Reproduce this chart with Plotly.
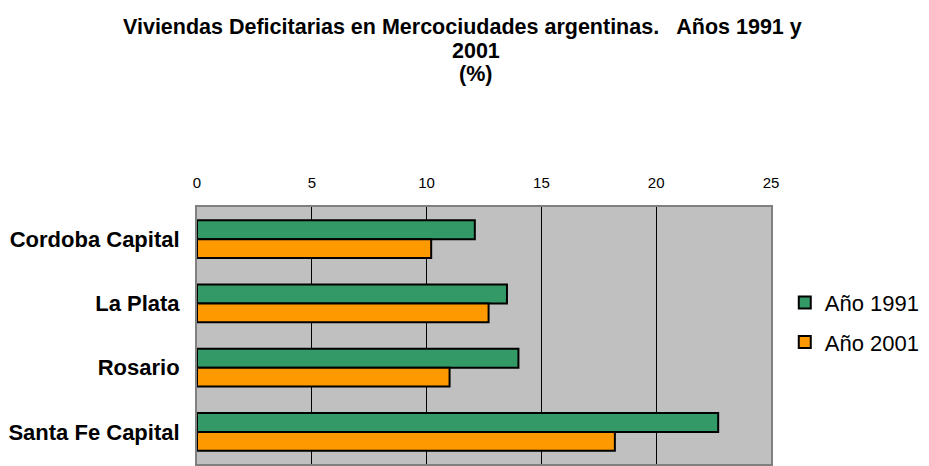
import plotly.graph_objects as go

# Data
ciudades = ["Cordoba Capital", "La Plata", "Rosario", "Santa Fe Capital"]
anio_1991 = [12.1, 13.5, 14.0, 22.7]
anio_2001 = [10.2, 12.7, 11.0, 18.2]
ticks_x = [0, 5, 10, 15, 20, 25]

FONT = "Liberation Sans, Arial, sans-serif"

fig = go.Figure()
fig.add_trace(go.Bar(
    y=ciudades, x=anio_1991, name="Año 1991", orientation="h",
    marker=dict(color="#339966", line=dict(color="black", width=2)),
    legendgroup="a",
))
fig.add_trace(go.Bar(
    y=ciudades, x=anio_2001, name="Año 2001", orientation="h",
    marker=dict(color="#FF9900", line=dict(color="black", width=2)),
    legendgroup="b",
))

titulo = [
    ("Viviendas Deficitarias en Mercociudades argentinas.   Años 1991 y", 0.4625, 1.700),
    ("2001", 0.486, 1.607),
    ("(%)", 0.486, 1.518),
]
annotations = []
for txt, x, y in titulo:
    annotations.append(dict(
        text=txt, x=x, y=y, xref="paper", yref="paper",
        xanchor="center", yanchor="middle", showarrow=False,
        font=dict(family=FONT, size=21.5, color="black", weight="bold"),
    ))

fig.update_layout(
    width=929, height=466,
    margin=dict(l=189, r=166, t=199, b=10),
    paper_bgcolor="white",
    plot_bgcolor="#C0C0C0",
    barmode="group",
    bargap=0.41,
    bargroupgap=0,
    font=dict(family=FONT, color="black"),
    annotations=annotations,
    showlegend=True,
    legend=dict(
        x=1.024, y=0.55, xanchor="left", yanchor="middle",
        font=dict(family=FONT, size=22, color="black"),
        bgcolor="rgba(0,0,0,0)",
        traceorder="grouped", tracegroupgap=8,
    ),
    xaxis=dict(
        side="top", range=[0, 25], tickvals=ticks_x, automargin=False,
        showgrid=True, gridcolor="black", gridwidth=1,
        zeroline=False, ticks="", ticklabelstandoff=11,
        tickfont=dict(family=FONT, size=15, color="black"),
        showline=True, mirror=True, linecolor="#808080", linewidth=2,
    ),
    yaxis=dict(
        autorange="reversed", showgrid=False, zeroline=False,
        automargin=False, ticks="", ticklabelstandoff=11,
        tickfont=dict(family=FONT, size=22, color="black", weight="bold"),
        showline=True, mirror=True, linecolor="#808080", linewidth=2,
    ),
)

fig.write_html("out.html")
